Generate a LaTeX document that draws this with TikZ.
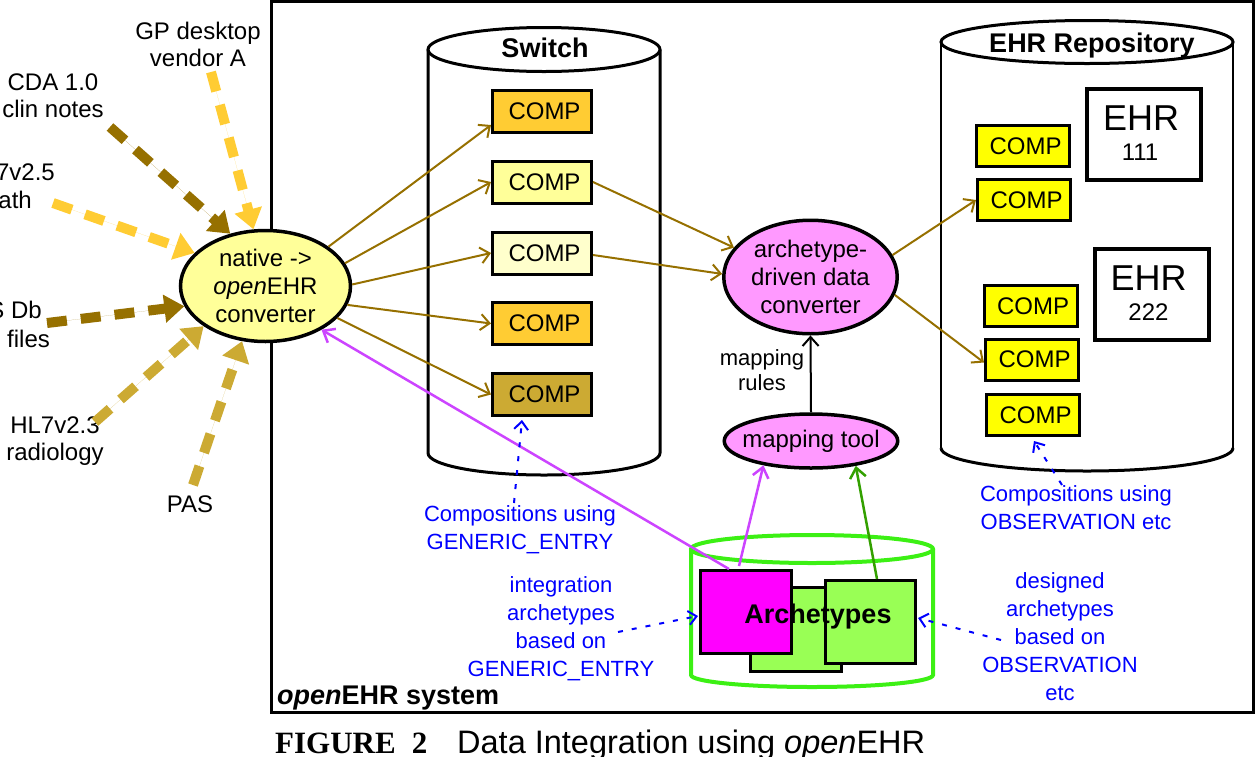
\documentclass[tikz,border=0pt]{standalone}
\usepackage{fontspec}
\setmainfont{Liberation Sans}
\newfontfamily\capserif{Liberation Serif}
\usetikzlibrary{arrows.meta,shapes.geometric,calc}

\definecolor{gold}{RGB}{255,204,51}
\definecolor{paleyel}{RGB}{255,255,153}
\definecolor{paleryel}{RGB}{255,255,204}
\definecolor{darkgold}{RGB}{204,170,51}
\definecolor{brownln}{RGB}{150,112,0}
\definecolor{pinkfill}{RGB}{255,153,255}
\definecolor{violetln}{RGB}{204,68,255}
\definecolor{greenln}{RGB}{51,160,0}
\definecolor{cylgreen}{RGB}{60,240,20}
\definecolor{lightgreen}{RGB}{153,255,85}
\definecolor{magentafill}{RGB}{255,0,255}
\definecolor{bluetxt}{RGB}{0,0,255}
\definecolor{ehryellow}{RGB}{255,255,0}

\newcommand\fsz[2]{\fontsize{#1}{#2}\selectfont}

\begin{document}
\begin{tikzpicture}[x=1pt,y=-1pt,
  comp/.style={draw, line width=3pt, inner sep=0pt, font=\fsz{24}{28}, execute at begin node={\hspace*{5pt}}},
  swcomp/.style={comp, minimum width=99pt, minimum height=42pt},
  ehrcomp/.style={comp, fill=ehryellow, minimum width=93pt, minimum height=41pt},
  ehrbox/.style={draw, line width=4pt, minimum width=114pt, minimum height=91pt, inner sep=0pt},
  bigtxt/.style={font=\fsz{36}{36}, inner sep=0pt},
  numtxt/.style={font=\fsz{24}{24}, inner sep=0pt},
  oval/.style={ellipse, draw, line width=3.5pt, inner sep=0pt, align=center, font=\fsz{24}{28}},
  lbl/.style={font=\fsz{24}{27}, align=center, inner sep=0pt},
  bluelbl/.style={font=\fsz{22}{28}, text=bluetxt, align=center, inner sep=0pt},
  ttl/.style={font=\bfseries\fsz{27}{30}, inner sep=0pt, anchor=base},
  flow/.style={draw=brownln, line width=2pt, -{Straight Barb[length=9pt,width=16pt]}},
  feed/.style={line width=10pt, dash pattern=on 20pt off 14pt, -{Triangle[length=20pt,width=27pt]}},
  bluearr/.style={draw=bluetxt, line width=2pt, dash pattern=on 5pt off 9pt, -{Straight Barb[length=8pt,width=14pt]}},
  cylline/.style={line width=3pt},
  cylside/.style={line width=2pt},
  greencyl/.style={draw=cylgreen, line width=4pt},
  arch/.style={draw, line width=3pt, inner sep=0pt},
]
\useasboundingbox (0,0) rectangle (1256,756);

% system frame
\draw[line width=3pt] (271,1.5) rectangle (1253,712);
\node[anchor=base west, inner sep=0pt, font=\bfseries\fsz{27}{30}] (syslbl) at (277,704) {\textit{open}EHR system};

% Switch cylinder
\draw[cylline] (544,49.5) ellipse [x radius=116, y radius=22];
\draw[cylline] (428,49.5) -- (428,453) arc[start angle=180, end angle=0, x radius=116, y radius=22] -- (660,49.5);
\node[ttl] (switchttl) at (545,57) {Switch};

% EHR repository cylinder
\draw[cylline] (1087,42) ellipse [x radius=146, y radius=21.5];
\draw[cylside] (941,42) -- (941,448);
\draw[cylside] (1233,42) -- (1233,448);
\draw[cylline] (941,448) arc[start angle=180, end angle=0, x radius=146, y radius=23];
\node[ttl] (repottl) at (1092,52) {EHR Repository};

% Archetypes cylinder
\draw[greencyl] (812,549) ellipse [x radius=121, y radius=14];
\draw[greencyl] (691,549) -- (691,675) arc[start angle=180, end angle=0, x radius=121, y radius=12] -- (933,549);

% switch compositions
\node[swcomp, fill=gold] (sw1) at (542,111.5) {COMP};
\node[swcomp, fill=paleyel] (sw2) at (542,182) {COMP};
\node[swcomp, fill=paleryel] (sw3) at (542,253) {COMP};
\node[swcomp, fill=gold] (sw4) at (542,323.5) {COMP};
\node[swcomp, fill=darkgold] (sw5) at (542,394.5) {COMP};

% EHR compositions
\node[ehrcomp] (ec1) at (1023,146) {COMP};
\node[ehrcomp] (ec2) at (1024,200) {COMP};
\node[ehrcomp] (ec3) at (1030.5,306) {COMP};
\node[ehrcomp] (ec4) at (1032,359.5) {COMP};
\node[ehrcomp] (ec5) at (1033,415) {COMP};

% EHR boxes
\node[ehrbox] (ehrA) at (1144,134) {};
\node[bigtxt] (ehrAt) at ($(ehrA)+(-3,-15.5)$) {EHR};
\node[numtxt] (ehrAn) at ($(ehrA)+(-4,18)$) {111};
\node[ehrbox] (ehrB) at (1151.5,294) {};
\node[bigtxt] (ehrBt) at ($(ehrB)+(-3,-15.5)$) {EHR};
\node[numtxt] (ehrBn) at ($(ehrB)+(-3,18)$) {222};

% ovals
\node[oval, fill=paleyel, minimum width=170pt, minimum height=111pt] (native) at (265.5,286) {native ->\\\textit{open}EHR\\converter};
\node[oval, fill=pinkfill, minimum width=173.5pt, minimum height=113.5pt] (conv) at (810.5,277) {archetype-\\driven data\\converter};
\node[oval, fill=pinkfill, minimum width=173.5pt, minimum height=54pt,
      label={[font=\fsz{24}{28}, inner sep=0pt]center:mapping tool}] (mtool) at (811,441) {};

% archetypes
\node[arch, fill=lightgreen, minimum width=91pt, minimum height=84pt] (gback) at (796,629.5) {};
\node[arch, fill=magentafill, minimum width=91pt, minimum height=83pt] (magrect) at (746,612) {};
\node[arch, fill=lightgreen, minimum width=90pt, minimum height=83pt] (gfront) at (870.5,622) {};
\node[font=\bfseries\fsz{27}{30}, inner sep=0pt, anchor=base] (archtxt) at (818,623) {Archetypes};

% left labels
\node[lbl] (gp) at (198,44.75) {GP desktop\\vendor A};
\node[lbl] (cda) at (53,96) {CDA 1.0\\clin notes};
\node[lbl, anchor=base east] (hl25a) at (55,180) {7v2.5};
\node[lbl, anchor=base east] (hl25b) at (32,208) {ath};
\node[lbl, anchor=base east] (dba) at (42,318) {S Db};
\node[lbl, anchor=base west] (dbb) at (7,347) {files};
\node[lbl] (hl23) at (55,441) {HL7v2.3\\radiology};
\node[lbl, anchor=base] (pas) at (190,512) {PAS};

% blue labels
\node[bluelbl] (gencomp) at (520,530) {Compositions using\\GENERIC\_ENTRY};
\node[bluelbl] (obscomp) at (1076,508) {Compositions using\\OBSERVATION etc};
\node[bluelbl] (integ) at (561,629) {integration\\archetypes\\based on\\GENERIC\_ENTRY};
\node[bluelbl] (design) at (1060,636.5) {designed\\archetypes\\based on\\OBSERVATION\\etc};

% mapping rules label
\node[lbl, font=\fsz{22}{25}] (mrules) at (762,370.5) {mapping\\rules};

% feed arrows into native converter
\coordinate (gpS) at (211,72);
\coordinate (cdaS) at (110,127);
\coordinate (hl25S) at (53,203);
\coordinate (dbS) at (47,323);
\coordinate (hl23S) at (95,422);
\coordinate (pasS) at (193,485);
\draw[feed, draw=gold, fill=gold] (gpS) -- (native.102);
\draw[feed, draw=brownln, fill=brownln] (cdaS) -- (native.124);
\draw[feed, draw=gold, fill=gold] (hl25S) -- (native.155);
\draw[feed, draw=brownln, fill=brownln] (dbS) -- (native.194);
\draw[feed, draw=darkgold, fill=darkgold] (hl23S) -- (native.213);
\draw[feed, draw=darkgold, fill=darkgold] (pasS) -- (native.247);

% native -> switch
\draw[flow] (native.32) -- ($(sw1.west)+(0,13.5)$);
\draw[flow] (native.16) -- (sw2.west);
\draw[flow] (native.1) -- (sw3.west);
\draw[flow] (native.-13) -- (sw4.west);
\draw[flow] (native.-24) -- (sw5.west);

% switch -> converter
\draw[flow] (sw2.east) -- (conv.159);
\draw[flow] ($(sw3.east)+(0,2)$) -- (conv.178);

% converter -> EHR
\draw[flow] (conv.15) -- (ec2.west);
\draw[flow] (conv.-12) -- ($(ec4.west)+(0,3)$);

% mapping rules
\draw[line width=2pt, -{Straight Barb[length=9pt,width=16pt]}] (mtool.north) -- (conv.south);

% archetype links
\draw[draw=violetln, line width=2.5pt, -{Straight Barb[length=10pt,width=16pt]}] ($(magrect.north west)+(40,-3)$) -- (mtool.207);
\draw[draw=greenln, line width=2.5pt, -{Straight Barb[length=10pt,width=16pt]}] ($(gfront.north west)+(53,0)$) -- (mtool.-29);
\draw[draw=violetln, line width=2.5pt, -{Straight Barb[length=10pt,width=16pt]}] ($(magrect.north west)+(30,0)$) -- (native.-38);

% blue pointers
\coordinate (genS) at (514,503);
\coordinate (obsS) at (1062,485);
\coordinate (integS) at (618,632);
\coordinate (designS) at (1001,640);
\draw[bluearr] (genS) -- ($(sw5.south)+(-20,3)$);
\draw[bluearr] (obsS) -- ($(ec5.south)+(1,4)$);
\draw[bluearr] (integS) -- ($(magrect.west)+(-1,4)$);
\draw[bluearr] (designS) -- ($(gfront.east)+(1,-4)$);

% caption
\node[anchor=base west, inner sep=0pt, font=\capserif\bfseries\fsz{31}{31}] (figno) at (275,753) {FIGURE\hspace{16pt}2};
\node[anchor=base west, inner sep=0pt, font=\fsz{32.5}{33}] (figcap) at (457,753) {Data Integration using \textit{open}EHR};
\end{tikzpicture}
\end{document}
